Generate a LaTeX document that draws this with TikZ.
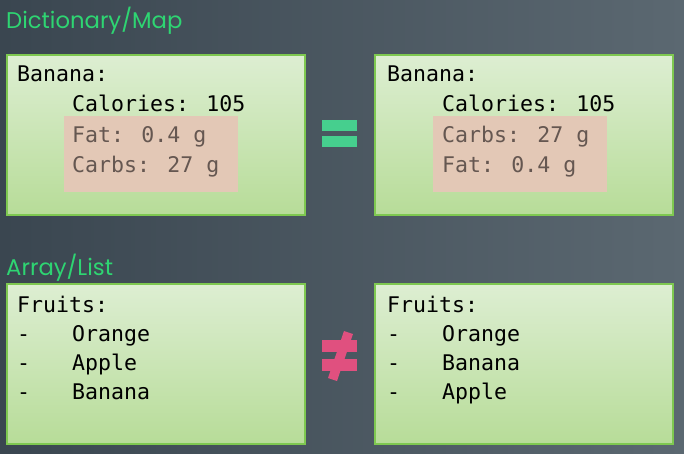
\documentclass[tikz,border=0pt]{standalone}
\usepackage{xcolor}
\usepackage{fontspec}
\newfontfamily\titlefont{Poppins}
\newfontfamily\codefont{DejaVu Sans Mono}
\definecolor{bgDark}{HTML}{3A4650}
\definecolor{bgLight}{HTML}{5B6871}
\definecolor{boxEdge}{HTML}{7EC850}
\definecolor{boxTop}{HTML}{DDEED2}
\definecolor{boxBottom}{HTML}{B7DC98}
\definecolor{markPink}{HTML}{E3C8B6}
\definecolor{markText}{HTML}{655751}
\definecolor{titleGreen}{HTML}{2ED572}
\definecolor{eqGreen}{HTML}{46CF8E}
\definecolor{neqPink}{HTML}{E0507F}

\begin{document}
\begin{tikzpicture}
[x=0.03cm, y=-0.03cm,
 boxDecorate/.style={draw=boxEdge, line width=0.06cm, top color=boxTop, bottom color=boxBottom, anchor=north west, minimum width=8.94cm, minimum height=4.8cm, inner sep=0pt},
 markDecorate/.style={fill=markPink, anchor=north west, minimum width=5.2cm, minimum height=2.28cm, inner sep=0pt},
 lineDecorate/.style={anchor=base west, inner sep=0pt, font=\codefont\fontsize{18.4}{22}\selectfont},
 titleDecorate/.style={anchor=base west, inner sep=0pt, text=titleGreen, font=\titlefont\fontsize{19.4}{22}\selectfont}]

% background
\useasboundingbox (0,0) rectangle (684,453);
\shade[left color=bgDark, right color=bgLight] (0,0) rectangle (684,453);

% headings
\node (H1) at (6,29) [titleDecorate] {Dictionary/Map};
\node (H2) at (6,275) [titleDecorate] {Array/List};

% boxes
 \foreach \nodename/\x/\y in {
D1/6/54,
D2/374/54,
L1/6/283,
L2/374/283
 }
 {
          \node (\nodename) at (\x,\y) [boxDecorate] {};
 }

% highlighted entries
\node (M1) at (64,116) [markDecorate] {};
\node (M2) at (433,116) [markDecorate] {};

% plain lines
 \foreach \nodename/\x/\y/\txt in {
D1a/17/82/{Banana:},
D1b/72/112/{Calories: 105},
D2a/387/82/{Banana:},
D2b/442/112/{Calories: 105},
L1a/17/312/{Fruits:},
L1b/72/341/{Orange},
L1c/72/370/{Apple},
L1d/72/399/{Banana},
L2a/387/312/{Fruits:},
L2b/442/341/{Orange},
L2c/442/370/{Banana},
L2d/442/399/{Apple}
 }
 {
          \node (\nodename) at (\x,\y) [lineDecorate] {\txt};
 }

% list dashes
 \foreach \nodename/\x/\y in {
L1b/17/341, L1c/17/370, L1d/17/399,
L2b/387/341, L2c/387/370, L2d/387/399
 }
 {
          \node (\nodename-dash) at (\x,\y) [lineDecorate] {-};
 }

% lines in the marked part
 \foreach \nodename/\x/\y/\txt in {
D1c/72/142/{Fat: 0.4 g},
D1d/72/172/{Carbs: 27 g},
D2c/442/142/{Carbs: 27 g},
D2d/442/172/{Fat: 0.4 g}
 }
 {
          \node (\nodename) at (\x,\y) [lineDecorate, text=markText] {\txt};
 }

% equal sign
\fill[eqGreen] (322,120) rectangle (357,131);
\fill[eqGreen] (322,136) rectangle (357,147);

% not equal sign
\fill[neqPink] (322,340) rectangle (357,352);
\fill[neqPink] (322,359) rectangle (357,371);
\fill[neqPink] (344,331) -- (353,334) -- (337,381) -- (328,378) -- cycle;
        \end{tikzpicture}
\end{document}
